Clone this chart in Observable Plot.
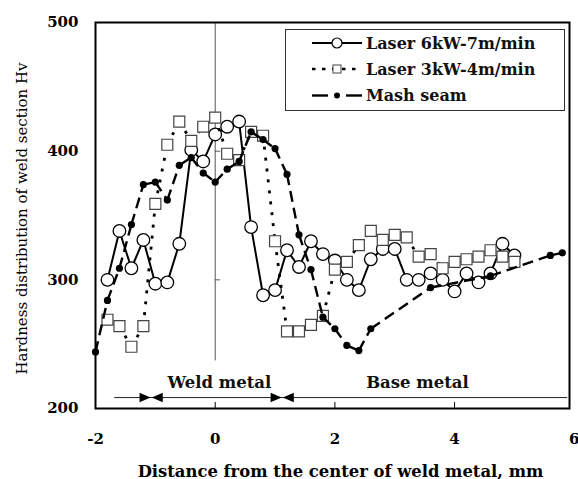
<!DOCTYPE html>
<html><head><meta charset="utf-8">
<script src="https://cdn.jsdelivr.net/npm/d3@7"></script>
<script src="https://cdn.jsdelivr.net/npm/@observablehq/plot@0.6"></script>
<style>body{margin:0;background:#fff;} svg{display:block}</style>
</head><body><div id="chart"></div>
<script>
// ---- data ----
const laserX = [-1.8,-1.6,-1.4,-1.2,-1.0,-0.8,-0.6,-0.4,-0.2,0,0.2,0.4,0.6,0.8,1.0,1.2,1.4,1.6,1.8,2.0,2.2,2.4,2.6,2.8,3.0,3.2,3.4,3.6,3.8,4.0,4.2,4.4,4.6,4.8,5.0];
const laser6Y = [300,338,309,331,297,298,328,401,392,413,419,423,341,288,292,323,310,330,320,315,300,292,316,324,324,300,300,305,300,291,305,298,305,328,319];
const laser3Y = [269,264,248,264,359,405,423,408,419,426,398,393,415,412,330,260,260,265,272,308,314,327,338,331,335,333,318,320,309,314,316,318,323,318,314];
const mashX = [-2.0,-1.8,-1.6,-1.4,-1.2,-1.0,-0.8,-0.6,-0.4,-0.2,0,0.2,0.4,0.6,0.8,1.0,1.2,1.4,1.6,1.8,2.0,2.2,2.4,2.6,3.6,4.6,5.6,5.8];
const mashY = [244,284,309,343,374,376,362,389,395,383,376,386,392,415,409,402,382,335,308,271,262,249,245,262,294,303,319,321];
const seriesNames = ["Laser 6kW-7m/min","Laser 3kW-4m/min","Mash seam"];
const xTicks = [-2,0,2,4,6];
const yTicks = [200,300,400,500];
const xTitle = "Distance from the center of weld metal, mm";
const yTitle = "Hardness distribution of weld section Hv";
const zoneLabels = ["Weld metal","Base metal"];
const zoneLabelX = [0.07, 3.38];
const zoneBounds = [-1.07, 1.12];
const zoneLineX = [-1.68, 5.89];
const zoneY = 208.5;
const zoneLabelY = 216.3;

// ---- build rows ----
const rows = (xs, ys) => xs.map((x, i) => ({x, y: ys[i]}));
const l6 = rows(laserX, laser6Y), l3 = rows(laserX, laser3Y), ms = rows(mashX, mashY);
const segs = r => d3.pairs(r).map(([a, b]) => ({x1: a.x, y1: a.y, x2: b.x, y2: b.y}));

const rightHead = {draw(c){c.moveTo(0,0);c.lineTo(-11,-4.8);c.lineTo(-11,4.8);c.closePath();}};
const leftHead = {draw(c){c.moveTo(0,0);c.lineTo(11,-4.8);c.lineTo(11,4.8);c.closePath();}};

const FONT = "'DejaVu Serif', serif";

const chart = Plot.plot({
  width: 578, height: 479,
  marginLeft: 95, marginRight: 9, marginTop: 22, marginBottom: 71,
  style: {fontFamily: FONT, background: "white", color: "black"},
  x: {domain: [-2, 5.92]},
  y: {domain: [200, 500]},
  marks: [
    Plot.ruleX([0], {y1: 237, y2: 500, stroke: "#555", strokeWidth: 1}),
    Plot.ruleY([300, 400], {x1: 0, x2: 0.09, stroke: "#555", strokeWidth: 1}),
    Plot.ruleX([0, 2, 4], {y1: 200, y2: 204.7, stroke: "#000", strokeWidth: 1}),
    // zone arrows
    Plot.ruleY([zoneY], {x1: zoneLineX[0], x2: zoneLineX[1], stroke: "#222", strokeWidth: 1}),
    Plot.dot(zoneBounds, {x: d => d, y: zoneY, symbol: rightHead, r: 5, fill: "black", stroke: null, dx: -0.6}),
    Plot.dot(zoneBounds, {x: d => d, y: zoneY, symbol: leftHead, r: 5, fill: "black", stroke: null, dx: 0.6}),
    Plot.text(zoneLabels, {x: (d, i) => zoneLabelX[i], y: zoneLabelY, text: d => d, lineAnchor: "bottom", fontSize: 16.5, fontWeight: "bold", fill: "#111"}),
    // Laser 6kW
    Plot.line(l6, {x: "x", y: "y", stroke: "black", strokeWidth: 2}),
    Plot.dot(l6, {x: "x", y: "y", r: 6.3, fill: "white", stroke: "black", strokeWidth: 1.3}),
    // Laser 3kW
    Plot.link(segs(l3), {x1: "x1", y1: "y1", x2: "x2", y2: "y2", stroke: "black", strokeWidth: 2.8, strokeDasharray: "3,8"}),
    Plot.dot(l3, {x: "x", y: "y", symbol: "square", r: 6.2, fill: "white", stroke: "#444", strokeWidth: 1.2}),
    // Mash seam
    Plot.link(segs(ms), {x1: "x1", y1: "y1", x2: "x2", y2: "y2", stroke: "black", strokeWidth: 2.4, strokeDasharray: "11,6"}),
    Plot.dot(ms, {x: "x", y: "y", r: 3.6, fill: "black", stroke: null}),
    // axes
    Plot.frame({stroke: "black", strokeWidth: 2}),
    Plot.axisX({ticks: xTicks, tickSize: 0, tickPadding: 25, fontSize: 15, fontWeight: "bold", label: null, tickFormat: d => String(d)}),
    Plot.axisY({ticks: yTicks, tickSize: 0, tickPadding: 17, fontSize: 15, fontWeight: "bold", label: null, tickFormat: d => String(d)}),
    Plot.text([xTitle], {frameAnchor: "bottom", dy: 68, dx: 8, lineAnchor: "bottom", textAnchor: "middle", fontSize: 16.4, fontWeight: "bold"}),
    Plot.text([yTitle], {frameAnchor: "left", dx: -73, dy: 3, rotate: -90, textAnchor: "middle", fontSize: 15, fontWeight: "normal"})
  ]
});

// ---- legend (inside plot area, top right) ----
const svg = d3.select(chart);
const lg = svg.append("g").attr("font-family", FONT).attr("text-anchor", "start");
lg.append("rect").attr("x", 285.5).attr("y", 29.5).attr("width", 279).attr("height", 81)
  .attr("fill", "white").attr("stroke", "#333").attr("stroke-width", 1);
const rowY = [43, 69, 95.5];
seriesNames.forEach((name, i) => {
  const y = rowY[i];
  const g = lg.append("g");
  if (i === 0) {
    g.append("line").attr("x1", 312).attr("x2", 362).attr("y1", y).attr("y2", y).attr("stroke", "black").attr("stroke-width", 2);
    g.append("circle").attr("cx", 337).attr("cy", y).attr("r", 5).attr("fill", "white").attr("stroke", "black").attr("stroke-width", 1.2);
  } else if (i === 1) {
    g.append("line").attr("x1", 312).attr("x2", 362).attr("y1", y).attr("y2", y).attr("stroke", "black").attr("stroke-width", 2.6).attr("stroke-dasharray", "3.5,6.5");
    g.append("rect").attr("x", 333).attr("y", y - 4).attr("width", 8).attr("height", 8).attr("fill", "white").attr("stroke", "#444").attr("stroke-width", 1);
  } else {
    g.append("line").attr("x1", 312).attr("x2", 328).attr("y1", y).attr("y2", y).attr("stroke", "black").attr("stroke-width", 2.4);
    g.append("line").attr("x1", 346).attr("x2", 362).attr("y1", y).attr("y2", y).attr("stroke", "black").attr("stroke-width", 2.4);
    g.append("circle").attr("cx", 337).attr("cy", y).attr("r", 3).attr("fill", "black");
  }
  g.append("text").attr("x", 366).attr("y", y).attr("dy", "0.35em").attr("text-anchor", "start")
    .attr("font-size", 16).attr("font-weight", "bold").attr("fill", "#111").text(name);
});

document.getElementById("chart").appendChild(chart);
</script>
</body></html>
